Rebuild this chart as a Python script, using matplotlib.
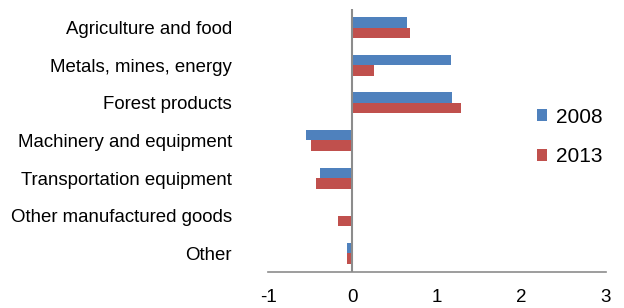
import numpy as np
import matplotlib
matplotlib.use('Agg')
import matplotlib.pyplot as plt

categories = ['Agriculture and food', 'Metals, mines, energy', 'Forest products',
              'Machinery and equipment', 'Transportation equipment',
              'Other manufactured goods', 'Other']
vals_2008 = [0.65, 1.17, 1.18, -0.55, -0.38, 0.0, -0.07]
vals_2013 = [0.68, 0.25, 1.29, -0.49, -0.43, -0.17, -0.06]
xticks = [-1, 0, 1, 2, 3]

plt.rcParams['font.family'] = ['Liberation Sans', 'DejaVu Sans']

fig = plt.figure(figsize=(6.24, 3.08), dpi=100)
ax = fig.add_axes([0.4295, 0.117, 0.5415, 0.854])

y = np.arange(len(categories))
h = 0.28
ax.barh(y - h/2, vals_2008, height=h, color='#4F81BD', label='2008')
ax.barh(y + h/2, vals_2013, height=h, color='#C0504D', label='2013')

ax.set_xlim(-1, 3)
ax.set_ylim(len(categories) - 0.5, -0.5)
ax.set_xticks(xticks)
ax.set_xticklabels([str(t) for t in xticks], fontsize=13.5)
ax.set_yticks(y)
ax.set_yticklabels(categories, fontsize=13.4)
ax.tick_params(axis='y', length=0, pad=26)
ax.tick_params(axis='x', length=0, pad=12)

for s in ['top', 'right', 'left']:
    ax.spines[s].set_visible(False)
ax.spines['bottom'].set_color('#8c8c8c')
ax.spines['bottom'].set_linewidth(1.2)
ax.axvline(0, color='#8c8c8c', lw=1.5, zorder=3)

ax.legend(loc='center left', bbox_to_anchor=(0.74, 0.513), frameon=False,
          fontsize=15, handlelength=0.5, handleheight=0.5, handletextpad=0.4,
          labelspacing=1.0)

fig.savefig('out.png', dpi=100)
